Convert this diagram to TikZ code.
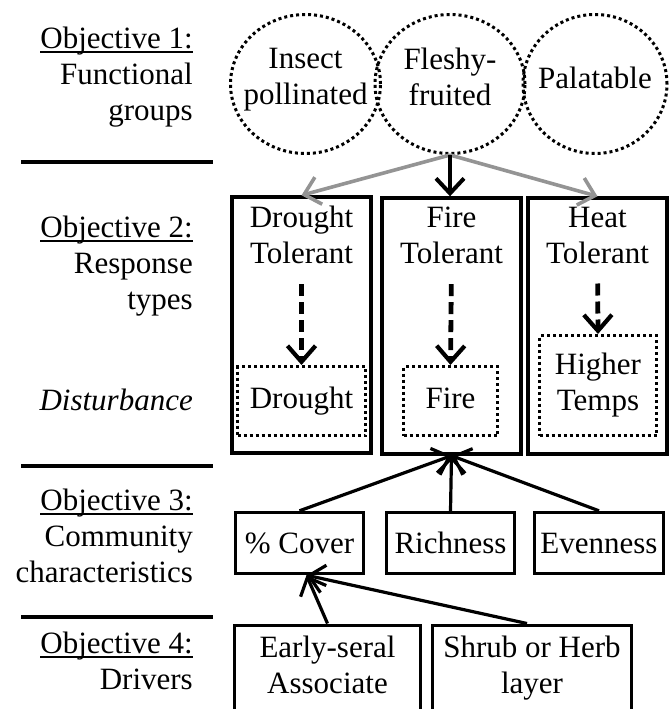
\documentclass[tikz,border=0pt]{standalone}
\usepackage{fontspec}
\setmainfont{Liberation Serif}
\usetikzlibrary{shapes.geometric,arrows.meta,positioning}
\newcommand{\objhead}[1]{\setbox0=\hbox{#1}\rlap{\rule[-4.5pt]{\wd0}{1.6pt}}\box0}

\begin{document}
\begin{tikzpicture}[x=1pt,y=-1pt,
 every node/.style={font=\fontsize{31}{36}\selectfont,inner sep=0pt},
 group/.style={ellipse,draw,line width=3pt,dash pattern=on 3pt off 3pt,minimum width=150pt,minimum height=139pt},
 tolbox/.style={rectangle,draw,line width=3.4pt,minimum width=139pt,minimum height=256pt},
 distbox/.style={rectangle,draw,line width=3pt,dash pattern=on 3pt off 3pt},
 charbox/.style={rectangle,draw,line width=3.4pt,minimum width=128pt,minimum height=61pt},
 drivbox/.style={rectangle,draw,line width=3.4pt,minimum height=110pt,anchor=north},
 sep/.style={line width=4pt},
 link/.style={line width=3.2pt,-{Straight Barb[length=15pt,width=28pt]}},
 graylink/.style={link,draw=black!42,line width=3.6pt},
 dashlink/.style={line width=4.8pt,dash pattern=on 12pt off 6pt,shorten <=20pt,
   -{Straight Barb[length=16pt,width=28pt,line width=4.2pt]}}]

\clip (0,0) rectangle (669,709);

% left column
\node at (193,26.8) [anchor=north east,align=right] (obj1) {\objhead{Objective 1:}\\Functional\\groups};
\node at (193,215.8) [anchor=north east,align=right] (obj2) {\objhead{Objective 2:}\\Response\\types};
\node at (193,410) [anchor=base east] (dist) {\textit{Disturbance}};
\node at (193,488.8) [anchor=north east,align=right] (obj3) {\objhead{Objective 3:}\\Community\\characteristics};
\node at (193,631.8) [anchor=north east,align=right] (obj4) {\objhead{Objective 4:}\\Drivers};
\draw[sep] (21,162)--(213,162);
\draw[sep] (21,466)--(213,466);
\draw[sep] (21,617)--(213,617);

% objective 1
\node at (305.5,84) [group] (insect) {};
\node at (450,84) [group] (fleshy) {};
\node at (595,84) [group,minimum width=144pt] (palat) {};
\node at (305.5,80) [align=center] (insecttxt) {Insect\\pollinated};
\node at (450,77) [align=center] (fleshytxt) {Fleshy-\\fruited};
\node at (595,78) (palattxt) {Palatable};

% objective 2
\node at (301.5,325) [tolbox] (dtbox) {};
\node at (451.5,326) [tolbox] (ftbox) {};
\node at (597.5,326) [tolbox] (htbox) {};
\node at (301.5,235) [align=center] (dtol) {Drought\\Tolerant};
\node at (451.5,235) [align=center] (ftol) {Fire\\Tolerant};
\node at (597.5,235) [align=center] (htol) {Heat\\Tolerant};
\node at (301.5,401) [distbox,minimum width=128pt,minimum height=69pt,text height=21pt,text depth=7pt] (drought) {Drought};
\node at (450.5,401) [distbox,minimum width=94pt,minimum height=69pt,text height=21pt,text depth=7pt] (fire) {Fire};
\node at (598,385.5) [distbox,minimum width=117pt,minimum height=100pt,align=center] (temps) {Higher\\Temps};

\draw[graylink] (fleshy.south)--(dtbox.north);
\draw[graylink] (fleshy.south)--(htbox.north);
\draw[link,line width=4pt] (fleshy.south)--(fleshy.south |- ftbox.north);
\draw[dashlink] (dtol.south)--(drought.north);
\draw[dashlink] (ftol.south |- dtol.south)--(fire.north);
\draw[dashlink] (htol.south)--(temps.north);

% objective 3
\node at (299.5,543) [charbox] (cover) {\%~Cover};
\node at (450.5,543) [charbox] (rich) {Richness};
\node at (599,543) [charbox,minimum width=129pt] (even) {Evenness};
\draw[link] (cover.north)--(ftbox.south);
\draw[link] (rich.north)--(ftbox.south);
\draw[link] (even.north)--(ftbox.south);

% objective 4
\node at (327.5,623.5) [drivbox,minimum width=186pt] (early) {};
\node at (532,623.5) [drivbox,minimum width=199pt] (shrub) {};
\node at (327.5,665) [align=center] (earlytxt) {Early-seral\\Associate};
\node at (532,668) [align=center] (shrubtxt) {Shrub or Herb\\layer};
\draw[link] (early.north)--([xshift=7pt]cover.south);
\draw[link] ([xshift=-5pt]shrub.north)--([xshift=7pt]cover.south);

\end{tikzpicture}
\end{document}
